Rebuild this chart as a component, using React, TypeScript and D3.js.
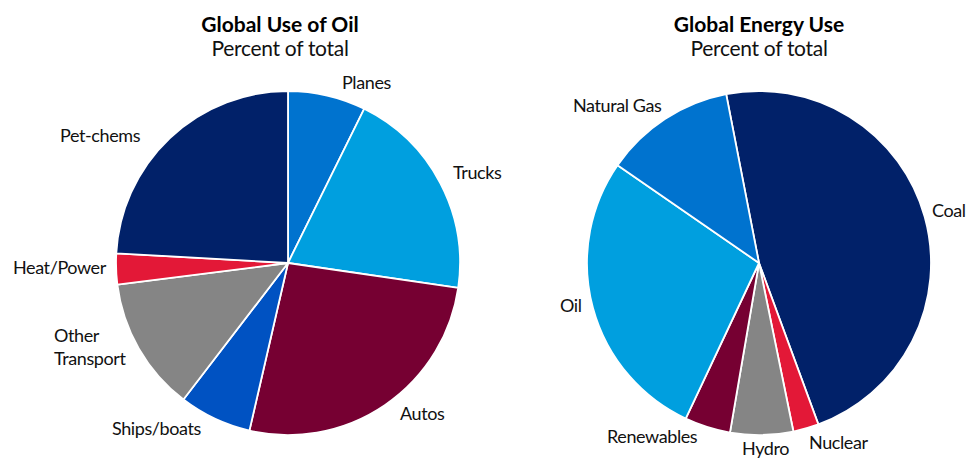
import React from "react";
import * as d3 from "d3";

// ---- Data ----
const oilCategories = ["Planes", "Trucks", "Autos", "Ships/boats", "Other Transport", "Heat/Power", "Pet-chems"];
const oilValues = [7.3, 20.0, 26.3, 6.8, 12.6, 2.9, 24.1];

const energyCategories = ["Coal", "Nuclear", "Hydro", "Renewables", "Oil", "Natural Gas"];
const energyValues = [47.4, 2.4, 5.9, 4.3, 27.6, 12.3];

// ---- Styles ----
const colorMap: Record<string, string> = {
  "Planes": "#0073CF",
  "Trucks": "#009FDF",
  "Autos": "#760032",
  "Ships/boats": "#0052C2",
  "Other Transport": "#858585",
  "Heat/Power": "#E31837",
  "Pet-chems": "#012169",
  "Coal": "#012169",
  "Nuclear": "#E31837",
  "Hydro": "#858585",
  "Renewables": "#760032",
  "Oil": "#009FDF",
  "Natural Gas": "#0073CF",
};

// label anchor positions (layout), relative to pie centre: [dx, dy] for baseline-left
const oilLabelPos: Record<string, [number, number][]> = {
  "Planes": [[54, -174]],
  "Trucks": [[165, -84]],
  "Autos": [[112, 157]],
  "Ships/boats": [[-176, 172]],
  "Other Transport": [[-234, 79], [-234, 102]],
  "Heat/Power": [[-275, 11]],
  "Pet-chems": [[-228, -121]],
};
const oilLabelLines: Record<string, string[]> = {
  "Other Transport": ["Other", "Transport"],
};
const energyLabelPos: Record<string, [number, number][]> = {
  "Coal": [[173, -46]],
  "Nuclear": [[50, 186]],
  "Hydro": [[-17, 192]],
  "Renewables": [[-152, 180]],
  "Oil": [[-199, 49]],
  "Natural Gas": [[-186, -151]],
};

const FONT = "Lato, 'Liberation Sans', sans-serif";
const W = 966;
const H = 458;
const R = 172;

function Pie({
  cx, cy, cats, vals, startDeg, title, subtitle, titleX, labelPos, labelLines,
}: {
  cx: number; cy: number; cats: string[]; vals: number[]; startDeg: number;
  title: string; subtitle: string; titleX: number;
  labelPos: Record<string, [number, number][]>; labelLines?: Record<string, string[]>;
}) {
  const start = (startDeg * Math.PI) / 180;
  const pie = d3.pie<number>().sort(null).value((d) => d).startAngle(start).endAngle(start + 2 * Math.PI);
  const arcs = pie(vals);
  const arc = d3.arc<d3.PieArcDatum<number>>().innerRadius(0).outerRadius(R);
  return (
    <g>
      <text x={titleX} y={32} textAnchor="middle" fontFamily={FONT} fontWeight={700} fontSize={21} fill="#000">
        {title}
      </text>
      <text x={titleX} y={56} textAnchor="middle" fontFamily={FONT} fontSize={21} letterSpacing={-0.3} fill="#111">
        {subtitle}
      </text>
      <g transform={`translate(${cx},${cy})`}>
        {arcs.map((a, i) => (
          <path key={i} d={arc(a) || ""} fill={colorMap[cats[i]]} stroke="#fff" strokeWidth={1.8} strokeLinejoin="round" />
        ))}
        {cats.map((c) => {
          const lines = (labelLines && labelLines[c]) || [c];
          const pos = labelPos[c];
          return lines.map((ln, j) => (
            <text key={c + j} x={pos[j][0]} y={pos[j][1]} fontFamily={FONT} fontSize={18} letterSpacing={-0.4} fill="#111">
              {ln}
            </text>
          ));
        })}
      </g>
    </g>
  );
}

export default function App() {
  return (
    <svg width={W} height={H} style={{ display: "block", position: "absolute", left: 0, top: 0, background: "#fff" }}>
      <rect width={W} height={H} fill="#fff" />
      <Pie cx={288} cy={263} cats={oilCategories} vals={oilValues} startDeg={0}
        title="Global Use of Oil" subtitle="Percent of total" titleX={280}
        labelPos={oilLabelPos} labelLines={oilLabelLines} />
      <Pie cx={759} cy={263} cats={energyCategories} vals={energyValues} startDeg={-11}
        title="Global Energy Use" subtitle="Percent of total" titleX={759}
        labelPos={energyLabelPos} />
    </svg>
  );
}
